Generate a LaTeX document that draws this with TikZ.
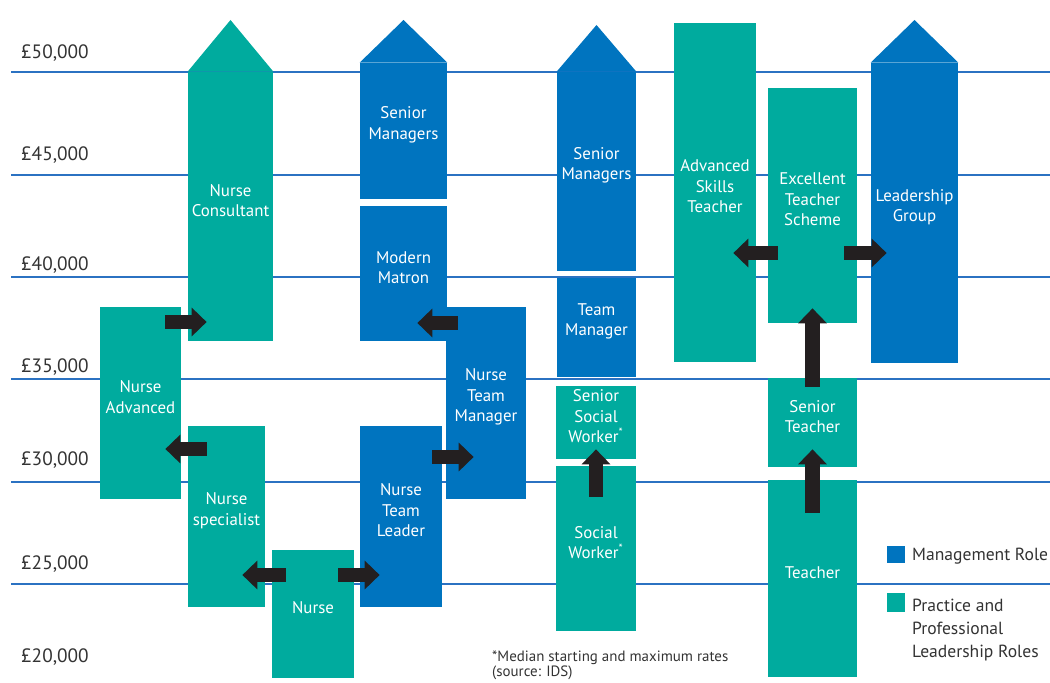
\documentclass[tikz,border=0pt]{standalone}
\usepackage{fontspec}
\setmainfont{PT Sans}
\usetikzlibrary{arrows.meta,calc,fit}

\definecolor{prac}{HTML}{00AB9E}
\definecolor{mgmt}{HTML}{0074BF}
\definecolor{rule}{HTML}{2B72C2}
\definecolor{ink}{HTML}{231F20}

\tikzset{
  payline/.style={draw=rule, line width=1.2pt},
  paylabel/.style={anchor=west, text=black!80, font=\fontsize{11}{12}\selectfont},
  pracbox/.style={fill=prac, inner sep=0pt, text=white, align=center, font=\fontsize{9.6}{11.7}\selectfont},
  mgmtbox/.style={pracbox, fill=mgmt},
  barrow/.style={draw=ink, line width=0.29cm, -{Triangle[width=0.56cm,length=0.3cm]}},
  keytext/.style={text=black!80, align=left, font=\fontsize{10}{13}\selectfont},
}

\begin{document}
\begin{tikzpicture}[x=0.02cm, y=-0.02cm]
  \useasboundingbox (0,0) rectangle (1050,682);

  % salary scale
  \foreach \yy in {72,175,277,379,482,584}
    \draw[payline] (11,\yy) -- (1050,\yy);

  \node[paylabel] (p50) at (15,53) {£50,000};
  \node[paylabel] (p45) at (15,155) {£45,000};
  \node[paylabel] (p40) at (15,265) {£40,000};
  \node[paylabel] (p35) at (15,367) {£35,000};
  \node[paylabel] (p30) at (15,460) {£30,000};
  \node[paylabel] (p25) at (15,564) {£25,000};
  \node[paylabel] (p20) at (15,657) {£20,000};

  % nursing
  \node[pracbox, fit={(188,72) (273,341)}] (cons) {Nurse\\Consultant};
  \fill[prac] (cons.north west) -- (cons.north |- 0,20) -- (cons.north east) -- cycle;
  \node[pracbox, fit={(100,307) (181,499)}] (adv) {Nurse\\Advanced};
  \node[pracbox, fit={(188,426) (265,607)}] (spec) {Nurse\\specialist};
  \node[pracbox, fit={(272,550) (354,678)}] (nurse) {Nurse};
  \node[mgmtbox, fit={(360,426) (442,607)}] (ntl) {Nurse\\Team\\Leader};
  \node[mgmtbox, fit={(446,307) (526,499)}] (ntm) {Nurse\\Team\\Manager};
  \node[mgmtbox, fit={(360,206) (447,341)}] (matron) {Modern\\Matron};
  \node[mgmtbox, fit={(360,63) (447,199)}] (smgr) {Senior\\Managers};
  \fill[mgmt] (smgr.north west) -- (smgr.north |- 0,20) -- (smgr.north east) -- cycle;

  % social work
  \node[mgmtbox, fit={(557,72) (636,271)}] (swmgr) {Senior\\Managers};
  \fill[mgmt] (swmgr.north west) -- (swmgr.north |- 0,25) -- (swmgr.north east) -- cycle;
  \node[mgmtbox, fit={(557,278) (636,377)}] (tmgr) {Team\\Manager};
  \node[pracbox, fit={(556,386) (636,459)}] (ssw) {Senior\\Social\\Worker\textsuperscript{*}};
  \node[pracbox, fit={(556,466) (636,631)}] (sw) {Social\\Worker\textsuperscript{*}};

  % teaching
  \node[pracbox, fit={(674,23) (756,362)}] (ast) {Advanced\\Skills\\Teacher};
  \node[pracbox, fit={(768,88) (857,323)}] (ets) {Excellent\\Teacher\\Scheme};
  \node[mgmtbox, fit={(871,63) (958,363)}] (lead) {Leadership\\Group};
  \fill[mgmt] (lead.north west) -- (lead.north |- 0,20) -- (lead.north east) -- cycle;
  \node[pracbox, fit={(768,378) (857,467)}] (st) {Senior\\Teacher};
  \node[pracbox, fit={(768,480) (857,677)}] (teach) {Teacher};

  % moves
  \draw[barrow] ($(adv.east |- 0,322)+(-16,0)$) -- ($(cons.west |- 0,322)+(19,0)$);
  \draw[barrow] ($(spec.west |- 0,449)+(19,0)$) -- ($(adv.east |- 0,449)+(-16,0)$);
  \draw[barrow] ($(nurse.west |- 0,575)+(14,0)$) -- ($(spec.east |- 0,575)+(-23,0)$);
  \draw[barrow] ($(nurse.east |- 0,575)+(-16,0)$) -- ($(ntl.west |- 0,575)+(20,0)$);
  \draw[barrow] ($(ntl.east |- 0,457)+(-10,0)$) -- ($(ntm.west |- 0,457)+(28,0)$);
  \draw[barrow] ($(ntm.west |- 0,323)+(12,0)$) -- ($(matron.east |- 0,323)+(-30,0)$);
  \draw[barrow] ($(sw.north)+(0,31)$) -- ($(ssw.south)+(0,-10)$);
  \draw[barrow] ($(ets.west |- 0,253)+(10,0)$) -- ($(ast.east |- 0,253)+(-23,0)$);
  \draw[barrow] ($(ets.east |- 0,253)+(-13,0)$) -- ($(lead.west |- 0,253)+(16,0)$);
  \draw[barrow] ($(teach.north)+(0,33)$) -- ($(st.south)+(0,-18)$);
  \draw[barrow] ($(st.north)+(0,9)$) -- ($(ets.south)+(0,-15)$);

  % key
  \node[fill=mgmt, inner sep=0pt, fit={(887,546) (905,563)}] (keym) {};
  \node[keytext, anchor=west] (keymt) at (906,556) {Management Role};
  \node[fill=prac, inner sep=0pt, fit={(887,593) (905,612)}] (keyp) {};
  \node[keytext, anchor=north west] (keypt) at (906,593) {Practice and\\Professional\\Leadership Roles};

  \node[anchor=north west, align=left, text=black!80, font=\fontsize{8.5}{8.5}\selectfont] (note) at (486,645) {*Median starting and maximum rates\\(source: IDS)};
\end{tikzpicture}
\end{document}
